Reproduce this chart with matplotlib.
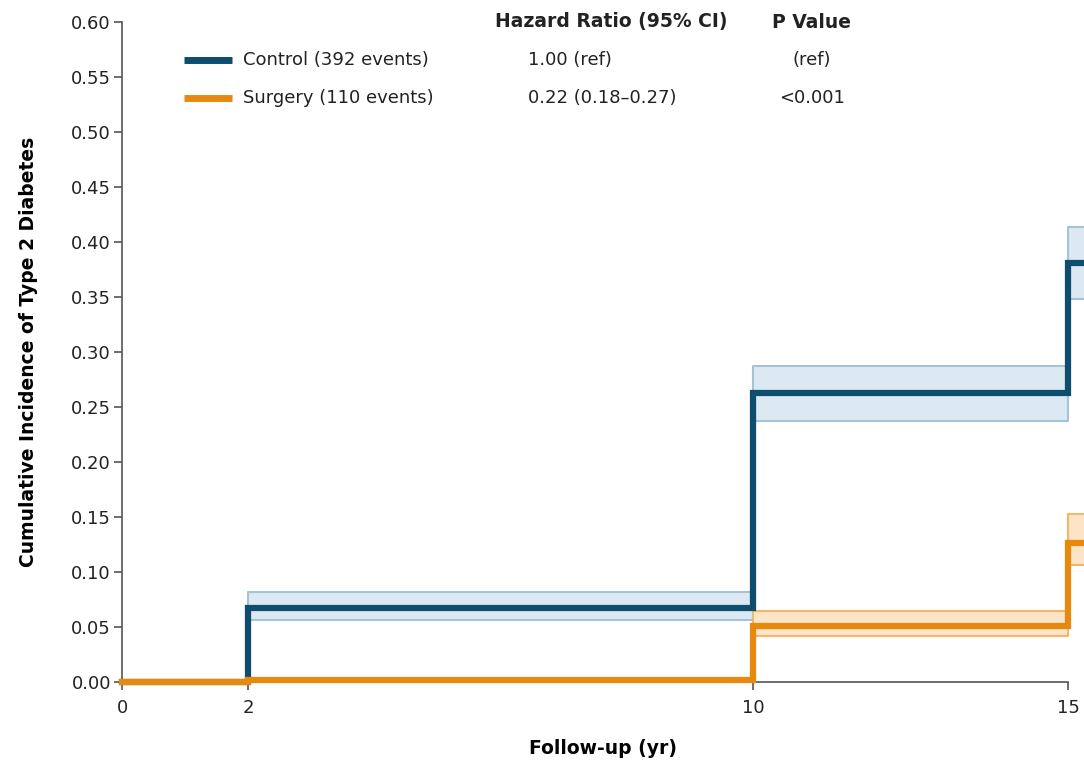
import matplotlib
matplotlib.use("Agg")
import matplotlib.pyplot as plt

# step times (yr) and cumulative incidence after each step
control_t = [0, 2, 10, 15, 15.6]
control_y = [0.0, 0.067, 0.263, 0.381, 0.381]
control_lo = [0.056, 0.237, 0.348]
control_hi = [0.082, 0.287, 0.414]
control_band_t = [2, 10, 15, 15.6]

surgery_t = [0, 2, 10, 15, 15.6]
surgery_y = [0.0, 0.002, 0.051, 0.126, 0.126]
surgery_lo = [0.042, 0.106]
surgery_hi = [0.065, 0.153]
surgery_band_t = [10, 15, 15.6]

x_ticks = [0, 2, 10, 15]
y_ticks = [0.00, 0.05, 0.10, 0.15, 0.20, 0.25, 0.30, 0.35, 0.40, 0.45, 0.50, 0.55, 0.60]

legend_labels = ["Control (392 events)", "Surgery (110 events)"]
hr_text = ["1.00 (ref)", "0.22 (0.18\u20130.27)"]
p_text = ["(ref)", "<0.001"]

blue = "#0f4d6e"
blue_fill = "#dce9f3"
blue_edge = "#a6c2d6"
orange = "#e8890f"
orange_fill = "#fde4c6"
orange_edge = "#f3b76c"

plt.rcParams['font.family'] = ['DejaVu Sans']

fig = plt.figure(figsize=(10.84, 7.64), dpi=100)
ax = fig.add_axes([122 / 1084, 82 / 764, 1 - 122 / 1084, 660 / 764])

# confidence bands, one box per interval
for i in range(len(control_lo)):
    ax.fill_between(control_band_t[i:i + 2], control_lo[i], control_hi[i],
                    facecolor=blue_fill, edgecolor=blue_edge, lw=1.5, zorder=1)
for i in range(len(surgery_lo)):
    ax.fill_between(surgery_band_t[i:i + 2], surgery_lo[i], surgery_hi[i],
                    facecolor=orange_fill, edgecolor=orange_edge, lw=1.5, zorder=1)

ax.step(control_t, control_y, where='post', color=blue, lw=4.5, zorder=3,
        solid_joinstyle='miter', clip_on=False)
ax.step(surgery_t, surgery_y, where='post', color=orange, lw=4.5, zorder=4,
        solid_joinstyle='miter', clip_on=False)

ax.set_xlim(0, 15.25)
ax.set_ylim(0, 0.60)
ax.set_xticks(x_ticks)
ax.set_yticks(y_ticks)
ax.set_yticklabels([f"{v:.2f}" for v in y_ticks])
ax.tick_params(direction='out', length=6, width=1.2, color='#555555',
               labelsize=13, labelcolor='#222222')
ax.tick_params(axis='x', pad=6)
ax.tick_params(axis='y', pad=2)
for s in ['top', 'right']:
    ax.spines[s].set_visible(False)
for s in ['left', 'bottom']:
    ax.spines[s].set_color('#555555')
    ax.spines[s].set_linewidth(1.2)
ax.spines['bottom'].set_bounds(0, 15)

ax.set_ylabel("Cumulative Incidence of Type 2 Diabetes", fontsize=13.5,
              fontweight='bold', labelpad=24)
ax.set_xlabel("Follow-up (yr)", fontsize=13.5, fontweight='bold', labelpad=16)

# legend table in figure pixels
def fx(px):
    return px / 1084

def fy(py):
    return 1 - py / 764

fig.text(fx(611), fy(22), "Hazard Ratio (95% CI)", ha='center', va='center',
         fontsize=13.5, fontweight='bold', color='#222222')
fig.text(fx(812), fy(22), "P Value", ha='center', va='center',
         fontsize=13.5, fontweight='bold', color='#222222')
for i, (lab, col) in enumerate(zip(legend_labels, [blue, orange])):
    yy = 60 + 38 * i
    fig.add_artist(plt.Line2D([fx(184), fx(232)], [fy(yy), fy(yy)], color=col,
                              lw=5, solid_capstyle='butt'))
    fig.text(fx(243), fy(yy), lab, ha='left', va='center', fontsize=13, color='#222222')
    fig.text(fx(528), fy(yy), hr_text[i], ha='left', va='center', fontsize=13,
             color='#222222')
    fig.text(fx(812), fy(yy), p_text[i], ha='center', va='center', fontsize=13,
             color='#222222')

fig.savefig("out.png", dpi=100)
